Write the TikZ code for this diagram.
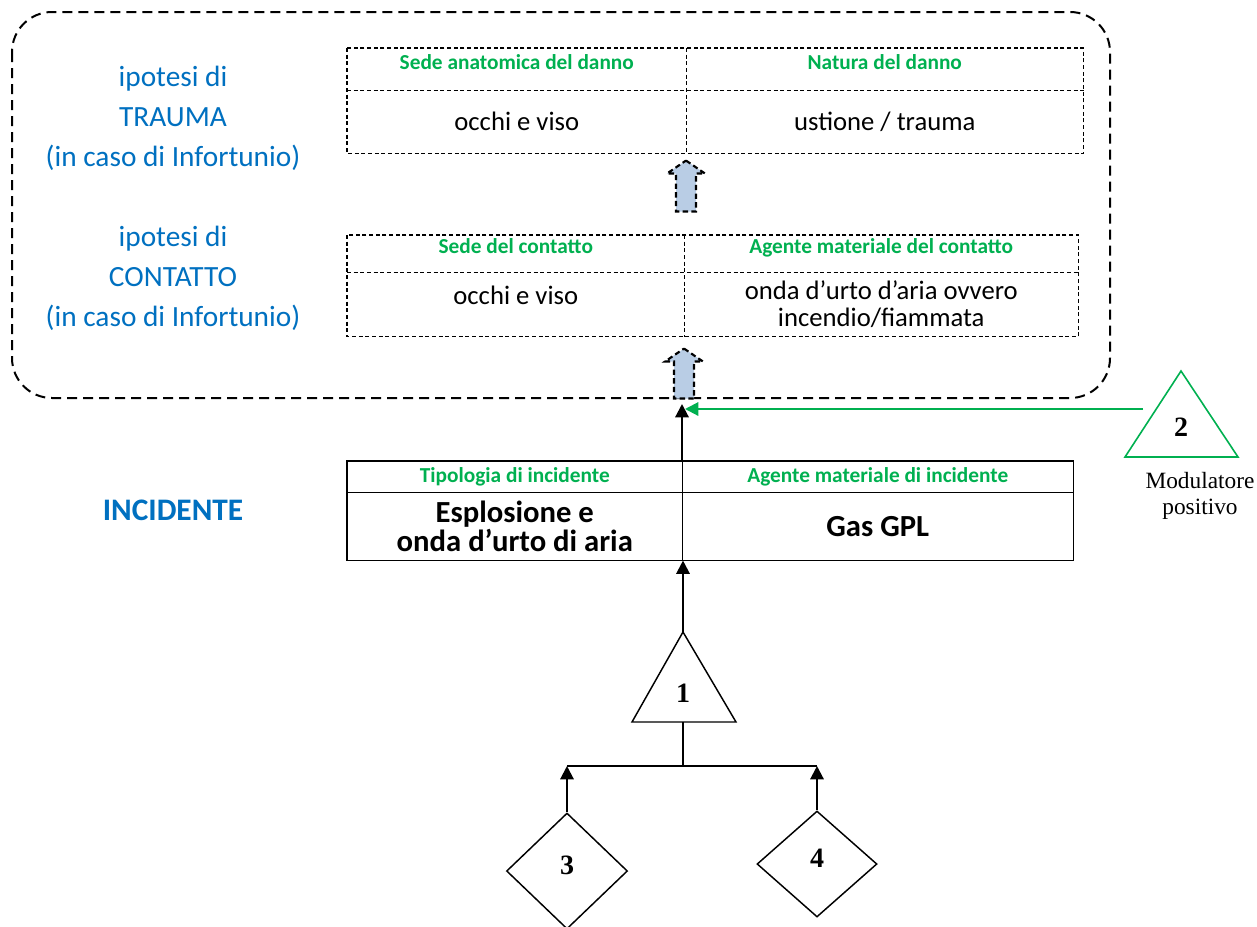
\documentclass[tikz,border=0pt]{standalone}
\usepackage{fontspec}
\setmainfont{Carlito}
\newfontfamily\tnr{Liberation Serif}
\usetikzlibrary{shapes.geometric,arrows.meta,calc}
\definecolor{hblue}{HTML}{0070C0}
\definecolor{hgreen}{HTML}{00B050}
\definecolor{afill}{HTML}{B9CDE5}
\begin{document}
\begin{tikzpicture}[x=0.75pt,y=-0.75pt,
  cellsz/.style 2 args={minimum width=#1*0.75pt, minimum height=#2*0.75pt},
  cell/.style={inner sep=0pt, anchor=north west, align=center},
  dline/.style={line width=1.4pt, dash pattern=on 3pt off 2pt},
  sline/.style={line width=1.2pt},
  hdr/.style={text=hgreen, font=\bfseries\fontsize{16}{18}\selectfont},
  hup/.style={text height=12pt, text depth=12pt},
  body/.style={font=\fontsize{20}{20}\selectfont},
  bbody/.style={font=\bfseries\fontsize{23}{22}\selectfont},
  side/.style={text=hblue, align=center, font=\fontsize{22}{30}\selectfont},
  conn/.style={line width=1.6pt, -{Triangle[length=10pt,width=10pt]}},
  gconn/.style={line width=1.6pt, draw=hgreen, -{Triangle[length=10pt,width=10pt]}, hgreen},
  blk/.style={draw, line width=1.6pt, dash pattern=on 4pt off 2.5pt, fill=afill},
  num/.style={font=\tnr\bfseries\fontsize{21}{21}\selectfont},
  diam/.style={diamond, draw, line width=1.1pt, inner sep=0pt}
]
\useasboundingbox (0,0) rectangle (1257,926);

% outer hypothesis container
\draw[line width=1.5pt, dash pattern=on 7.5pt off 4.5pt, rounded corners=30pt] (12,12) rectangle (1110,398);

% side labels
\node[side] (trauma) at (173,118) {ipotesi di\\TRAUMA\\(in caso di Infortunio)};
\node[side] (contatto) at (173,278) {ipotesi di\\CONTATTO\\(in caso di Infortunio)};
\node[text=hblue, font=\bfseries\fontsize{23.5}{26}\selectfont] (incid) at (173,510) {INCIDENTE};

% table trauma
\node[cell, cellsz={339}{42}, hdr, hup] (a1) at (347,48) {Sede anatomica del danno};
\node[cell, cellsz={397}{42}, hdr, hup] (b1) at (686,48) {Natura del danno};
\node[cell, cellsz={339}{63}, body] (c1) at (347,90) {occhi e viso};
\node[cell, cellsz={397}{63}, body] (d1) at (686,90) {ustione / trauma};
\draw[dline] (a1.north west) rectangle (d1.south east);
\draw[dline] (a1.south west) -- (b1.south east);
\draw[dline] (a1.north east) -- (c1.south east);

% table contatto
\node[cell, cellsz={337}{37}, hdr, hup] (a2) at (347,235) {Sede del contatto};
\node[cell, cellsz={394}{37}, hdr, hup] (b2) at (684,235) {Agente materiale del contatto};
\node[cell, cellsz={337}{64}, body, text height=13pt, text depth=13pt] (c2) at (347,272) {occhi e viso};
\node[cell, cellsz={394}{64}, body] (d2) at (684,272) {onda d’urto d’aria ovvero\\incendio/fiammata};
\draw[dline] (a2.north west) rectangle (d2.south east);
\draw[dline] (a2.south west) -- (b2.south east);
\draw[dline] (a2.north east) -- (c2.south east);

% table incidente
\node[cell, cellsz={335}{31}, hdr] (a3) at (347,461) {Tipologia di incidente};
\node[cell, cellsz={391}{31}, hdr] (b3) at (682,461) {Agente materiale di incidente};
\node[cell, cellsz={335}{68}, bbody] (c3) at (347,492) {Esplosione e\\onda d’urto di aria};
\node[cell, cellsz={391}{68}, bbody] (d3) at (682,492) {Gas GPL};
\draw[sline] (a3.north west) rectangle (d3.south east);
\draw[sline] (a3.south west) -- (b3.south east);
\draw[sline] (a3.north east) -- (c3.south east);

% block arrows
\draw[blk] ($(d1.south west)+(0,7)$) -- ++(19,13) -- ++(-9,0) -- ++(0,38) -- ++(-20,0) -- ++(0,-38) -- ++(-9,0) -- cycle;
\draw[blk] ($(d2.south west)+(0,12)$) -- ++(19,13) -- ++(-9,0) -- ++(0,37) -- ++(-20,0) -- ++(0,-37) -- ++(-9,0) -- cycle;

% connector incident -> hypotheses
\coordinate (boxin) at (682,404);
\draw[conn] (b3.north west) -- (boxin);

% modulator triangle 2
\coordinate (m2apex) at (1181,371);
\coordinate (m2l) at (1125,457);
\coordinate (m2r) at (1238,457);
\draw[hgreen, line width=1.2pt] (m2apex) -- (m2l) -- (m2r) -- cycle;
\node[num] (n2) at (1181,427) {2};
\node[font=\tnr\fontsize{17.5}{19.5}\selectfont, align=center] (modlab) at (1200,496) {Modulatore\\positivo};
\coordinate (gstart) at (1143,409);
\draw[gconn] (gstart) -- ($(gstart -| boxin)+(3,0)$);

% triangle 1
\coordinate (t1apex) at (683,632);
\coordinate (t1l) at (632,722);
\coordinate (t1r) at (736,722);
\draw[line width=1.1pt] (t1apex) -- (t1l) -- (t1r) -- cycle;
\node[num] (n1) at (683,693) {1};
\draw[conn] (t1apex) -- (t1apex |- d3.south);

% fork
\coordinate (t1base) at (683,722);
\coordinate (fork) at (683,766);
\draw[line width=1.2pt] (t1base) -- (fork);

% diamonds
\node[diam, minimum width=121*0.75pt, minimum height=116*0.75pt] (g3) at (567,871) {};
\node[num] (n3) at (567,865) {3};
\node[diam, minimum width=120*0.75pt, minimum height=106*0.75pt] (g4) at (817,864) {};
\node[num] (n4) at (817,858) {4};
\draw[line width=1.2pt] (g3.north |- fork) -- (g4.north |- fork);
\draw[conn] (g3.north) -- (g3.north |- fork);
\draw[conn] (g4.north) -- (g4.north |- fork);
\end{tikzpicture}
\end{document}
